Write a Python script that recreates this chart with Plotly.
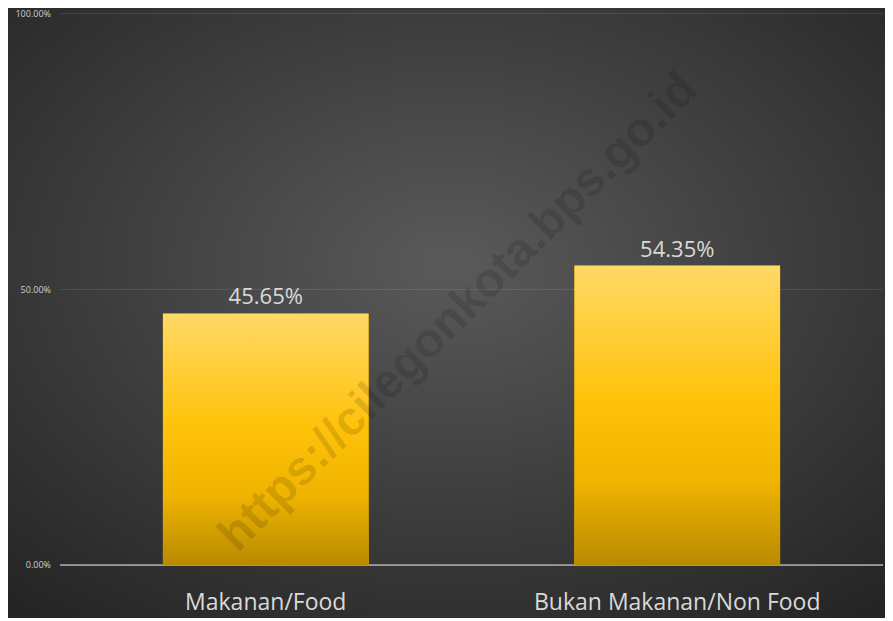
import base64
import plotly.graph_objects as go

categories = ["Makanan/Food", "Bukan Makanan/Non Food"]
values = [45.65, 54.35]
tick_vals = [0, 50, 100]
tick_text = ["0.00%", "50.00%", "100.00%"]
watermark = "https://cilegonkota.bps.go.id"

# the page body adds an 8px margin, so the figure is sized to fit inside the window
W, H = 885, 613
L, R, T, B = 52, 10, 6, 56
pw, ph = W - L - R, H - T - B
bar_width = 0.5
grid_color = "rgba(255,255,255,0.1)"


def svg_uri(svg):
    return "data:image/svg+xml;base64," + base64.b64encode(svg.encode()).decode()


bg_svg = (
    '<svg xmlns="http://www.w3.org/2000/svg" width="100" height="100" viewBox="0 0 100 100" preserveAspectRatio="none">'
    '<defs><radialGradient id="g" cx="0.5" cy="0.42" r="0.75" fx="0.5" fy="0.42">'
    '<stop offset="0" stop-color="#5a5a5a"/><stop offset="0.55" stop-color="#3c3c3c"/>'
    '<stop offset="1" stop-color="#242424"/></radialGradient></defs>'
    '<rect width="100" height="100" fill="url(#g)"/></svg>'
)
bar_svg = (
    '<svg xmlns="http://www.w3.org/2000/svg" width="100" height="100" viewBox="0 0 100 100" preserveAspectRatio="none">'
    '<defs><linearGradient id="b" x1="0" y1="0" x2="0" y2="1">'
    '<stop offset="0" stop-color="#ffd966"/><stop offset="0.45" stop-color="#ffc20a"/>'
    '<stop offset="0.72" stop-color="#f0b400"/><stop offset="1" stop-color="#b88a00"/>'
    '</linearGradient></defs><rect width="100" height="100" fill="url(#b)"/></svg>'
)

fig = go.Figure(
    go.Bar(
        x=list(range(len(categories))),
        y=values,
        width=bar_width,
        marker=dict(color="#ffc000", line=dict(width=0)),
        texttemplate="%{y:.2f}%",
        textposition="outside",
        textfont=dict(family="Open Sans, Noto Sans, sans-serif", size=22, color="#d9d9d9"),
        cliponaxis=False,
        hoverinfo="skip",
    )
)

images = [
    dict(
        source=svg_uri(bg_svg), xref="paper", yref="paper",
        x=-L / pw, y=(H - B) / ph, sizex=(W - 3) / pw, sizey=(H - 3) / ph,
        xanchor="left", yanchor="top", sizing="stretch", layer="below",
    )
]
for i, v in enumerate(values):
    images.append(dict(
        source=svg_uri(bar_svg), xref="x", yref="y",
        x=i - bar_width / 2, y=v, sizex=bar_width, sizey=v,
        xanchor="left", yanchor="top", sizing="stretch", layer="above",
    ))

fig.update_layout(
    width=W, height=H,
    margin=dict(l=L, r=R, t=T, b=B, autoexpand=False),
    paper_bgcolor="white",
    plot_bgcolor="rgba(0,0,0,0)",
    showlegend=False,
    images=images,
    xaxis=dict(
        tickmode="array", tickvals=list(range(len(categories))), ticktext=categories,
        range=[-0.5, len(categories) - 0.5], automargin=False,
        showgrid=False, zeroline=False, ticks="",
        showline=True, mirror=True, linecolor=grid_color, linewidth=1,
        tickfont=dict(family="Open Sans, Noto Sans, sans-serif", size=23, color="#d9d9d9"),
        ticklabelstandoff=16,
    ),
    yaxis=dict(
        range=[0, 100], tickvals=tick_vals, ticktext=tick_text, automargin=False,
        showgrid=True, gridcolor=grid_color, gridwidth=1,
        zeroline=True, zerolinecolor="#8c8c8c", zerolinewidth=1.5,
        showline=False, ticks="", ticklabeloverflow="allow",
        tickfont=dict(family="Open Sans, Noto Sans, sans-serif", size=9, color="#d0d0d0"),
        ticklabelstandoff=8,
    ),
    annotations=[
        dict(
            text=watermark, xref="paper", yref="paper",
            x=(448 - L) / pw, y=(H - B - 303) / ph, showarrow=False,
            textangle=-45,
            font=dict(family="Liberation Sans, Arial, sans-serif", size=48,
                      color="rgba(0,0,0,0.13)", weight="bold"),
            xanchor="center", yanchor="middle",
        )
    ],
)

fig.write_html("out.html")
